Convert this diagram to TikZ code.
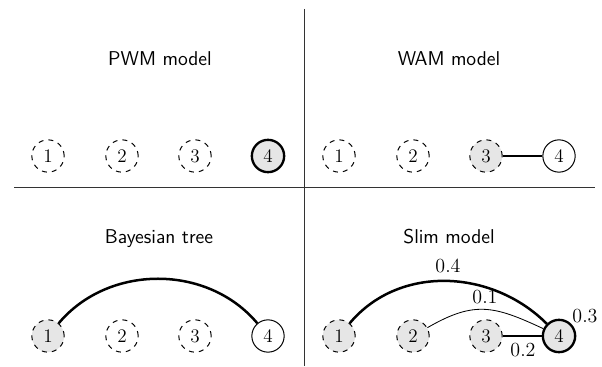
\documentclass[tikz,border=0pt]{standalone}
\usepackage{xcolor}
\definecolor{nodefill}{HTML}{E6E6E6}
\tikzset{
  state/.style={circle, minimum size=19.4pt, inner sep=0pt,
                font=\fontsize{11.5}{13}\selectfont, line width=0.6pt},
  hidden/.style={state, draw, dashed},
  shaded/.style={fill=nodefill},
  observed/.style={state, draw},
  focus/.style={state, draw, line width=1.4pt, fill=nodefill},
  title/.style={font=\sffamily\fontsize{12}{14}\selectfont, anchor=base, inner sep=0pt},
  weight/.style={font=\fontsize{12}{14}\selectfont, inner sep=0pt},
  divider/.style={draw=black!80, line width=0.6pt},
  heavy/.style={line width=1.5pt},
  light/.style={line width=0.5pt},
  medium/.style={line width=0.8pt},
}
\begin{document}
\begin{tikzpicture}[x=0.6pt, y=-0.6pt]
  \useasboundingbox (0,0) rectangle (602,366);

  % quadrant dividers
  \coordinate (vtop) at (304,9);
  \coordinate (vbot) at (304,366);
  \coordinate (hl) at (14,187);
  \coordinate (hr) at (595,187);
  \draw[divider] (vtop) -- (vbot);
  \draw[divider] (hl) -- (hr);

  % titles
  \node[title] (tpwm)   at (160,66)  {PWM model};
  \node[title] (twam)   at (449,66)  {WAM model};
  \node[title] (tbayes) at (159,243) {Bayesian tree};
  \node[title] (tslim)  at (449,243) {Slim model};

  % PWM model
  \node[hidden] (a1) at (48,156)  {1};
  \node[hidden] (a2) at (122,156) {2};
  \node[hidden] (a3) at (195,156) {3};
  \node[focus]  (a4) at (268,156) {4};

  % WAM model
  \node[hidden] (b1) at (339,156) {1};
  \node[hidden] (b2) at (413,156) {2};
  \node[hidden, shaded] (b3) at (486,156) {3};
  \node[observed] (b4) at (559,156) {4};
  \draw[heavy] (b3) -- (b4);

  % Bayesian tree
  \node[hidden, shaded] (c1) at (48,336) {1};
  \node[hidden] (c2) at (122,336) {2};
  \node[hidden] (c3) at (195,336) {3};
  \node[observed] (c4) at (268,336) {4};
  \draw[heavy] (c1) to[out=50, in=130] (c4);

  % Slim model
  \node[hidden, shaded] (d1) at (339,336) {1};
  \node[hidden, shaded] (d2) at (413,336) {2};
  \node[hidden, shaded] (d3) at (486,336) {3};
  \node[focus] (d4) at (559,336) {4};
  \draw[heavy] (d1) to[out=50, in=135] (d4);
  \draw[light] (d2) to[out=30, in=155, looseness=1.2] (d4);
  \draw[medium] (d3) -- (d4);

  % weights
  \node[weight] (w14) at (448,265.5) {0.4};
  \node[weight] (w24) at (485,297.5) {0.1};
  \node[weight] (w34) at (523,350)   {0.2};
  \node[weight] (w44) at (585,316.5) {0.3};
\end{tikzpicture}
\end{document}
